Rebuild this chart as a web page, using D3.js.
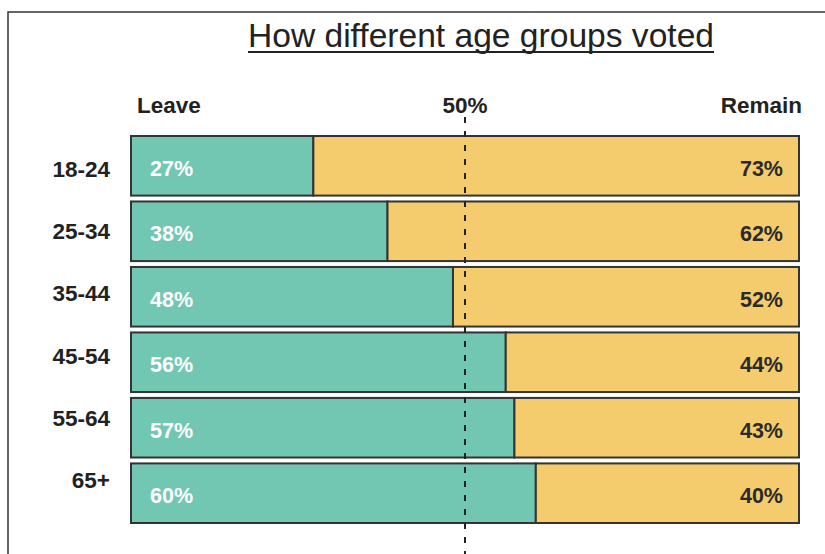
<!DOCTYPE html>
<html>
<head>
<meta charset="utf-8">
<script src="https://cdn.jsdelivr.net/npm/d3@7"></script>
<style>
  body { margin: 0; background: #fff; }
  text { font-family: "Liberation Sans", Arial, sans-serif; }
</style>
</head>
<body>
<svg id="chart" width="825" height="554"></svg>
<script>
// age groups and the share that voted leave / remain
// leave bar lengths, labels are the rounded figures
var ageGroups = ['18-24', '25-34', '35-44', '45-54', '55-64', '65+'];
var leavePct  = [27.3, 38.4, 48.2, 56.1, 57.4, 60.6];
var leaveLabels  = [27, 38, 48, 56, 57, 60];
var remainLabels = [73, 62, 52, 44, 43, 40];
var midMark = 50;

var W = 825, H = 554;
var svg = d3.select('#chart');

// frame (runs off the right/bottom of the picture)
svg.append('rect')
  .attr('x', 8).attr('y', 12)
  .attr('width', 840).attr('height', 600)
  .attr('fill', 'none')
  .attr('stroke', '#333')
  .attr('stroke-width', 1.5);

var x = d3.scaleLinear().domain([0, 100]).range([131, 799]);
var y = d3.scaleBand().domain(ageGroups).range([136, 523]).paddingInner(0.09);
// row labels sit on their own slightly tighter spacing
var yLab = d3.scalePoint().domain(ageGroups).range([177, 488]);

// title
var title = svg.append('text')
  .attr('x', 481).attr('y', 47)
  .attr('text-anchor', 'middle')
  .attr('font-size', 33.6)
  .attr('fill', '#222')
  .text('How different age groups voted');
var tb = title.node().getBBox();
svg.append('line')
  .attr('x1', tb.x).attr('x2', tb.x + tb.width)
  .attr('y1', 52).attr('y2', 52)
  .attr('stroke', '#222').attr('stroke-width', 1.8);

// header labels
svg.append('text').attr('x', 137).attr('y', 113)
  .attr('font-size', 22.5).attr('font-weight', 'bold').attr('fill', '#222')
  .text('Leave');
svg.append('text').attr('x', x(midMark)).attr('y', 113)
  .attr('text-anchor', 'middle')
  .attr('font-size', 22.5).attr('font-weight', 'bold').attr('fill', '#222')
  .text(midMark + '%');
svg.append('text').attr('x', 802).attr('y', 113)
  .attr('text-anchor', 'end')
  .attr('font-size', 22.5).attr('font-weight', 'bold').attr('fill', '#222')
  .text('Remain');

var rows = svg.selectAll('g.row')
  .data(ageGroups)
  .enter().append('g')
  .attr('class', 'row');

// leave part
rows.append('rect')
  .attr('x', x(0))
  .attr('y', d => y(d))
  .attr('width', (d, i) => x(leavePct[i]) - x(0))
  .attr('height', y.bandwidth())
  .attr('fill', '#72c7b2')
  .attr('stroke', '#333').attr('stroke-width', 2);

// remain part
rows.append('rect')
  .attr('x', (d, i) => x(leavePct[i]))
  .attr('y', d => y(d))
  .attr('width', (d, i) => x(100) - x(leavePct[i]))
  .attr('height', y.bandwidth())
  .attr('fill', '#f4cc6e')
  .attr('stroke', '#333').attr('stroke-width', 2);

// dashed 50% line, drawn over the bars
svg.append('line')
  .attr('x1', x(midMark)).attr('x2', x(midMark))
  .attr('y1', 117).attr('y2', H)
  .attr('stroke', '#222').attr('stroke-width', 2)
  .attr('stroke-dasharray', '6,8');

rows.append('text')
  .attr('x', 150)
  .attr('y', d => y(d) + y.bandwidth() / 2 + 10)
  .attr('font-size', 21.5).attr('font-weight', 'bold')
  .attr('fill', '#fff')
  .text((d, i) => leaveLabels[i] + '%');

rows.append('text')
  .attr('x', 783)
  .attr('y', d => y(d) + y.bandwidth() / 2 + 10)
  .attr('text-anchor', 'end')
  .attr('font-size', 21.5).attr('font-weight', 'bold')
  .attr('fill', '#2a2a2a')
  .text((d, i) => remainLabels[i] + '%');

// age group labels
rows.append('text')
  .attr('x', 110)
  .attr('y', d => yLab(d))
  .attr('text-anchor', 'end')
  .attr('font-size', 22.5).attr('font-weight', 'bold')
  .attr('fill', '#222')
  .text(d => d);
</script>
</body>
</html>
